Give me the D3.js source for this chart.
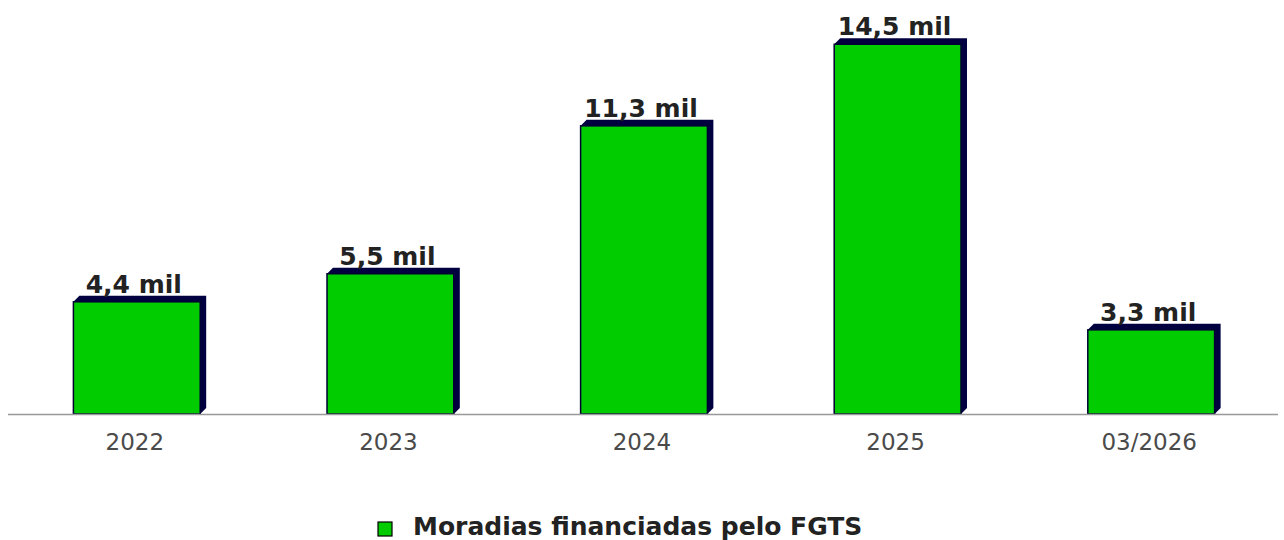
<!DOCTYPE html>
<html>
<head>
<meta charset="utf-8">
<script src="https://cdn.jsdelivr.net/npm/d3@7"></script>
<style>
  body { margin: 0; background: #fff; }
  svg { display: block; font-family: "DejaVu Sans", Verdana, sans-serif; }
</style>
</head>
<body>
<svg id="chart"></svg>
<script>
// data
var categories = ["2022", "2023", "2024", "2025", "03/2026"];
var values = [4.4, 5.5, 11.3, 14.5, 3.3];       // mil moradias
var valueLabels = ["4,4 mil", "5,5 mil", "11,3 mil", "14,5 mil", "3,3 mil"];
var seriesName = "Moradias financiadas pelo FGTS";

var width = 1284, height = 540;
var depth = 6; // fake 3d offset

var svg = d3.select("#chart")
  .attr("width", width)
  .attr("height", height);

var x = d3.scaleBand()
  .domain(categories)
  .range([10, 1278])
  .paddingInner(0.5)
  .paddingOuter(0.25);

var y = d3.scaleLinear()
  .domain([0, 16])
  .range([414, 6]);

var data = categories.map(function(c, i) {
  return {cat: c, value: values[i], label: valueLabels[i]};
});

// shadow / depth
svg.selectAll("path.shadow")
  .data(data)
  .enter()
  .append("path")
    .attr("class", "shadow")
    .attr("d", function(d) {
      var x0 = x(d.cat), x1 = x0 + x.bandwidth(), y0 = y(d.value), yb = y(0);
      return "M" + x0 + "," + y0 +
        "L" + (x0 + depth) + "," + (y0 - depth) +
        "L" + (x1 + depth) + "," + (y0 - depth) +
        "L" + (x1 + depth) + "," + (yb - depth) +
        "L" + x1 + "," + yb + "Z";
    })
    .style("fill", "#000040");

// bars
svg.selectAll("rect.bar")
  .data(data)
  .enter()
  .append("rect")
    .attr("class", "bar")
    .attr("x", function(d) { return x(d.cat); })
    .attr("y", function(d) { return y(d.value); })
    .attr("width", x.bandwidth())
    .attr("height", function(d) { return y(0) - y(d.value); })
    .style("fill", "#00cc00")
    .style("stroke", "#000033")
    .style("stroke-width", 1.5);

// x axis line
svg.append("line")
  .attr("x1", 8).attr("x2", 1278)
  .attr("y1", y(0) + 0.5).attr("y2", y(0) + 0.5)
  .style("stroke", "#999")
  .style("stroke-width", 1.5);

// x tick labels
svg.selectAll("text.tick")
  .data(categories)
  .enter()
  .append("text")
    .attr("class", "tick")
    .attr("x", function(d) { return x(d) + x.bandwidth() / 2 - 2; })
    .attr("y", 450)
    .attr("text-anchor", "middle")
    .attr("font-size", "23px")
    .attr("fill", "#4a4a4a")
    .text(function(d) { return d; });

// value labels
svg.selectAll("text.value")
  .data(data)
  .enter()
  .append("text")
    .attr("class", "value")
    .attr("x", function(d) { return x(d.cat) + x.bandwidth() / 2 - 3; })
    .attr("y", function(d) { return y(d.value) - 9; })
    .attr("text-anchor", "middle")
    .attr("font-size", "25px")
    .attr("font-weight", "bold")
    .attr("fill", "#222")
    .text(function(d) { return d.label; });

// legend
var legend = svg.append("g").attr("transform", "translate(378,522)");
legend.append("rect")
  .attr("width", 14).attr("height", 14)
  .style("fill", "#00cc00")
  .style("stroke", "#000")
  .style("stroke-width", 1.2);
legend.append("text")
  .attr("x", 35).attr("y", 13)
  .attr("font-size", "25px")
  .attr("font-weight", "bold")
  .attr("fill", "#222")
  .text(seriesName);
</script>
</body>
</html>
